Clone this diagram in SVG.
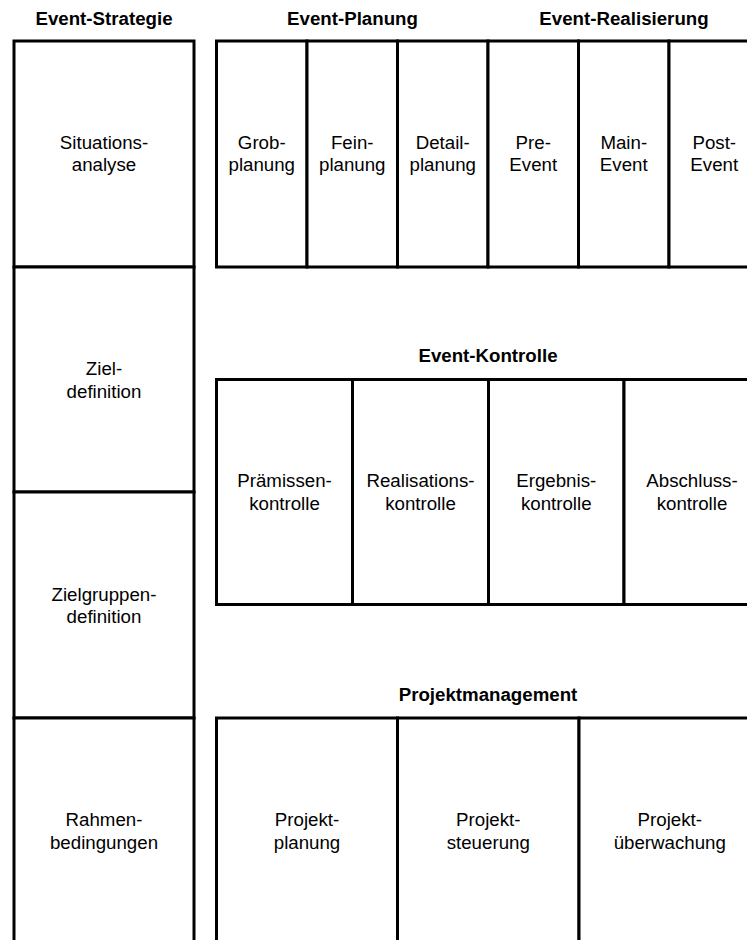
<svg xmlns="http://www.w3.org/2000/svg" width="747" height="940" viewBox="0 0 747 940">
<style>
.c{fill:#fff;stroke:#000;stroke-width:3}
.t{font-family:"Liberation Sans",Arial,sans-serif;font-size:18.7px;text-anchor:middle;fill:#000}
.h{font-family:"Liberation Sans",Arial,sans-serif;font-size:18.7px;font-weight:bold;text-anchor:middle;fill:#000}
</style>
<rect width="747" height="940" fill="#fff"/>
<g id="titles">
<text class="h" x="104" y="25">Event-Strategie</text>
<text class="h" x="352.5" y="25">Event-Planung</text>
<text class="h" x="624" y="25">Event-Realisierung</text>
<text class="h" x="488" y="362">Event-Kontrolle</text>
<text class="h" x="488" y="701">Projektmanagement</text>
</g>
<g id="situationsanalyse"><rect class="c" x="14" y="41" width="180" height="226"/><text class="t" x="104" y="148.5">Situations-</text><text class="t" x="104" y="171">analyse</text></g>
<g id="zieldefinition"><rect class="c" x="14" y="267" width="180" height="225"/><text class="t" x="104" y="375">Ziel-</text><text class="t" x="104" y="397.5">definition</text></g>
<g id="zielgruppendefinition"><rect class="c" x="14" y="492" width="180" height="226"/><text class="t" x="104" y="600.5">Zielgruppen-</text><text class="t" x="104" y="623">definition</text></g>
<g id="rahmenbedingungen"><rect class="c" x="14" y="718" width="180" height="240"/><text class="t" x="104" y="826">Rahmen-</text><text class="t" x="104" y="848.5">bedingungen</text></g>

<g id="grobplanung"><rect class="c" x="216.5" y="41" width="90.5" height="226"/><text class="t" x="261.75" y="148.5">Grob-</text><text class="t" x="261.75" y="171">planung</text></g>
<g id="feinplanung"><rect class="c" x="307" y="41" width="90.5" height="226"/><text class="t" x="352.25" y="148.5">Fein-</text><text class="t" x="352.25" y="171">planung</text></g>
<g id="detailplanung"><rect class="c" x="397.5" y="41" width="90.5" height="226"/><text class="t" x="442.75" y="148.5">Detail-</text><text class="t" x="442.75" y="171">planung</text></g>
<g id="pre-event"><rect class="c" x="488" y="41" width="90.5" height="226"/><text class="t" x="533.25" y="148.5">Pre-</text><text class="t" x="533.25" y="171">Event</text></g>
<g id="main-event"><rect class="c" x="578.5" y="41" width="90.5" height="226"/><text class="t" x="623.75" y="148.5">Main-</text><text class="t" x="623.75" y="171">Event</text></g>
<g id="post-event"><rect class="c" x="669" y="41" width="90.5" height="226"/><text class="t" x="714.25" y="148.5">Post-</text><text class="t" x="714.25" y="171">Event</text></g>

<g id="praemissenkontrolle"><rect class="c" x="216.5" y="379.5" width="136" height="225"/><text class="t" x="284.5" y="487">Prämissen-</text><text class="t" x="284.5" y="509.5">kontrolle</text></g>
<g id="realisationskontrolle"><rect class="c" x="352.5" y="379.5" width="136" height="225"/><text class="t" x="420.5" y="487">Realisations-</text><text class="t" x="420.5" y="509.5">kontrolle</text></g>
<g id="ergebniskontrolle"><rect class="c" x="488.5" y="379.5" width="135.5" height="225"/><text class="t" x="556.25" y="487">Ergebnis-</text><text class="t" x="556.25" y="509.5">kontrolle</text></g>
<g id="abschlusskontrolle"><rect class="c" x="624" y="379.5" width="136" height="225"/><text class="t" x="692" y="487">Abschluss-</text><text class="t" x="692" y="509.5">kontrolle</text></g>

<g id="projektplanung"><rect class="c" x="216.5" y="718" width="181" height="240"/><text class="t" x="307" y="826">Projekt-</text><text class="t" x="307" y="848.5">planung</text></g>
<g id="projektsteuerung"><rect class="c" x="397.5" y="718" width="181.5" height="240"/><text class="t" x="488.25" y="826">Projekt-</text><text class="t" x="488.25" y="848.5">steuerung</text></g>
<g id="projektueberwachung"><rect class="c" x="579" y="718" width="181.5" height="240"/><text class="t" x="669.75" y="826">Projekt-</text><text class="t" x="669.75" y="848.5">überwachung</text></g>
<g id="connectors"/>
</svg>
